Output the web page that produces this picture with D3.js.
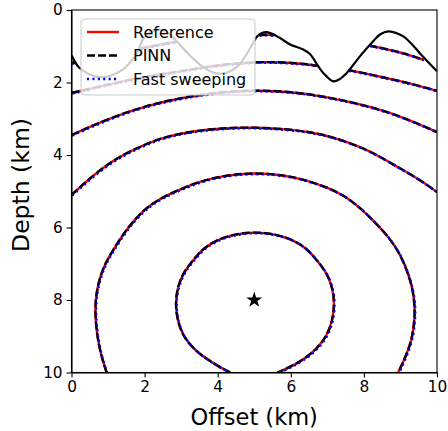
<!DOCTYPE html>
<html>
<head>
<meta charset="utf-8">
<script src="https://cdn.jsdelivr.net/npm/d3@7"></script>
<style>
  body { margin: 0; background: #fff; }
  svg { display: block; font-family: "DejaVu Sans", sans-serif; }
  .tick line, .domain { stroke: #000; stroke-width: 1.1; }
</style>
</head>
<body>
<svg id="chart" width="448" height="431"></svg>
<script>
// axis ticks
var xTicks = [0, 2, 4, 6, 8, 10];
var yTicks = [0, 2, 4, 6, 8, 10];

// source position (km)
var source = [5, 8];

// surface topography, [offset, depth]
var topography = [
  [0, 1.25], [0.2, 1.58], [0.5, 1.78], [0.85, 1.86], [1.2, 1.76], [1.46, 1.6],
  [1.78, 1.21], [1.96, 0.8], [2.15, 0.62], [2.5, 0.55], [2.74, 0.72], [3.11, 1.12],
  [3.56, 1.54], [3.93, 1.74], [4.2, 1.74], [4.56, 1.54], [4.93, 0.98], [5.07, 0.74],
  [5.2, 0.64], [5.34, 0.61], [5.5, 0.66], [5.7, 0.77], [5.98, 0.95], [6.34, 1.09],
  [6.53, 1.22], [6.75, 1.55], [6.9, 1.75], [7.16, 1.97], [7.35, 1.9], [7.53, 1.74],
  [7.89, 1.28], [8.21, 0.91], [8.45, 0.67], [8.67, 0.59], [8.9, 0.64], [9.08, 0.73],
  [9.3, 0.93], [9.53, 1.19], [10, 1.69]
];

// traveltime contours (visible pieces below the surface), [offset, depth]
var contour1 = [
  [4.34, 10], [4.0, 9.82], [3.7, 9.63], [3.35, 9.36], [3.06, 9.01], [2.9, 8.58],
  [2.84, 8.1], [2.9, 7.65], [3.06, 7.24], [3.33, 6.9], [3.6, 6.58], [3.97, 6.34],
  [4.47, 6.18], [5.02, 6.12], [5.57, 6.18], [6.07, 6.34], [6.44, 6.58], [6.71, 6.9],
  [6.98, 7.24], [7.14, 7.65], [7.2, 8.1], [7.14, 8.58], [6.98, 9.01], [6.7, 9.36],
  [6.36, 9.63], [6.02, 9.83], [5.64, 10]
];
var contour2 = [
  [0.96, 10], [0.8, 9.5], [0.69, 8.92], [0.64, 8.28], [0.68, 7.8], [0.78, 7.36],
  [0.93, 6.98], [1.14, 6.62], [1.5, 6.05], [1.96, 5.52], [2.42, 5.2], [2.92, 4.97],
  [3.5, 4.73], [4.2, 4.56], [5.0, 4.49], [5.8, 4.55], [6.45, 4.7], [7.07, 4.92],
  [7.5, 5.15], [7.89, 5.45], [8.3, 5.85], [8.71, 6.3], [9.0, 6.75], [9.21, 7.26],
  [9.35, 7.75], [9.4, 8.28], [9.37, 8.7], [9.31, 9.1], [9.15, 9.55], [8.94, 10]
];
var contour3 = [
  [0, 5.1], [0.55, 4.6], [1.14, 4.14], [1.8, 3.8], [2.42, 3.54], [3.1, 3.38],
  [3.79, 3.29], [4.4, 3.25], [5.0, 3.24], [5.8, 3.28], [6.52, 3.36], [7.2, 3.52],
  [7.89, 3.77], [8.4, 4.02], [8.9, 4.32], [9.45, 4.63], [10, 5.02]
];
var contour4 = [
  [0, 3.45], [1, 3.0], [2, 2.65], [3, 2.42], [4, 2.27], [5, 2.21], [6, 2.25],
  [7, 2.4], [8, 2.62], [9, 2.92], [10, 3.37]
];
var contour5a = [
  [0, 2.29], [0.9, 2.08], [1.8, 1.88], [2.8, 1.72], [3.5, 1.6], [4.3, 1.49],
  [5.1, 1.43], [5.8, 1.44], [6.5, 1.5], [6.73, 1.54]
];
var contour5b = [[7.57, 1.66], [8, 1.74], [8.8, 1.92], [9.4, 2.06], [10, 2.23]];
var contour6a = [[0, 1.47], [0.12, 1.44]];
var contour6b = [[1.88, 1.06], [2.2, 1.0], [2.5, 0.94], [2.74, 0.9], [2.88, 0.88]];
var contour6c = [[5.13, 0.69], [5.35, 0.68], [5.55, 0.69]];
var contour6d = [[8.15, 0.98], [8.5, 1.05], [9.0, 1.17], [9.3, 1.26], [9.62, 1.37]];

var referenceContours = [contour1, contour2, contour3, contour4, contour5a, contour5b,
  contour6a, contour6b, contour6c, contour6d];
// PINN and fast sweeping overlap the reference in the picture
var pinnContours = referenceContours;
var sweepContours = referenceContours;

var legendLabels = ['Reference', 'PINN', 'Fast sweeping'];

var margin = { left: 71.5, top: 10, right: 11, bottom: 58.5 };
var width = 448 - margin.left - margin.right;
var height = 431 - margin.top - margin.bottom;

var svg = d3.select('#chart');
var g = svg.append('g').attr('transform', 'translate(' + margin.left + ',' + margin.top + ')');

var x = d3.scaleLinear().domain([0, 10]).range([0, width]);
var y = d3.scaleLinear().domain([0, 10]).range([0, height]);

var contourLine = d3.line()
  .x(function (d) { return x(d[0]); })
  .y(function (d) { return y(d[1]); })
  .curve(d3.curveBasis);

var surfaceLine = d3.line()
  .x(function (d) { return x(d[0]); })
  .y(function (d) { return y(d[1]); })
  .curve(d3.curveCatmullRom.alpha(0.5));

g.append('clipPath').attr('id', 'plotClip')
  .append('rect').attr('width', width).attr('height', height);

var plot = g.append('g').attr('clip-path', 'url(#plotClip)');

function drawSet(data, color, lw, dash, shift) {
  plot.append('g')
    .attr('transform', 'translate(' + shift + ',' + shift + ')')
    .selectAll('path')
    .data(data)
    .join('path')
    .attr('d', contourLine)
    .attr('fill', 'none')
    .attr('stroke', color)
    .attr('stroke-width', lw)
    .attr('stroke-dasharray', dash);
}

drawSet(referenceContours, '#ff0000', 2.4, null, 0);
drawSet(pinnContours, '#000000', 2.4, '8,3', 0);
drawSet(sweepContours, '#0000ff', 2.1, '2.1,3.3', 0.8);

plot.append('path')
  .datum(topography)
  .attr('d', surfaceLine)
  .attr('fill', 'none')
  .attr('stroke', '#000')
  .attr('stroke-width', 2.2);

g.append('path')
  .attr('d', d3.symbol().type(d3.symbolStar).size(80)())
  .attr('transform', 'translate(' + x(source[0]) + ',' + y(source[1]) + ')')
  .attr('fill', '#000');

// axes
var xAxis = g.append('g')
  .attr('transform', 'translate(0,' + height + ')')
  .call(d3.axisBottom(x).tickValues(xTicks).tickSize(4.9).tickPadding(4).tickSizeOuter(0));
var yAxis = g.append('g')
  .call(d3.axisLeft(y).tickValues(yTicks).tickSize(4.9).tickPadding(4).tickSizeOuter(0));
[xAxis, yAxis].forEach(function (a) {
  a.attr('font-family', null).attr('font-size', null);
  a.selectAll('text')
    .style('font-family', '"DejaVu Sans", sans-serif')
    .style('font-size', '15.3px')
    .attr('fill', '#000');
});

g.append('rect')
  .attr('width', width).attr('height', height)
  .attr('fill', 'none').attr('stroke', '#000').attr('stroke-width', 1.1);

g.append('text')
  .attr('x', width / 2).attr('y', height + 52)
  .attr('text-anchor', 'middle')
  .style('font-size', '22.5px')
  .text('Offset (km)');

g.append('text')
  .attr('transform', 'translate(' + (29 - margin.left) + ',' + (185 - margin.top) + ') rotate(-90)')
  .attr('text-anchor', 'middle')
  .style('font-size', '23.5px')
  .text('Depth (km)');

// legend
var legend = svg.append('g').attr('transform', 'translate(81,19)');
legend.append('rect')
  .attr('width', 174).attr('height', 76).attr('rx', 4)
  .attr('fill', '#fff').attr('fill-opacity', 0.8)
  .attr('stroke', '#cccccc').attr('stroke-width', 1.1);

var styles = [
  { color: '#ff0000', dash: null },
  { color: '#000000', dash: '8,3' },
  { color: '#0000ff', dash: '2.1,3.3' }
];

legendLabels.forEach(function (label, i) {
  var row = legend.append('g').attr('transform', 'translate(0,' + (13 + i * 23.5) + ')');
  row.append('line')
    .attr('x1', 6).attr('x2', 38)
    .attr('stroke', styles[i].color)
    .attr('stroke-width', 2.4)
    .attr('stroke-dasharray', styles[i].dash);
  row.append('text')
    .attr('x', 52).attr('dy', '0.36em')
    .style('font-size', '16px')
    .text(label);
});
</script>
</body>
</html>
